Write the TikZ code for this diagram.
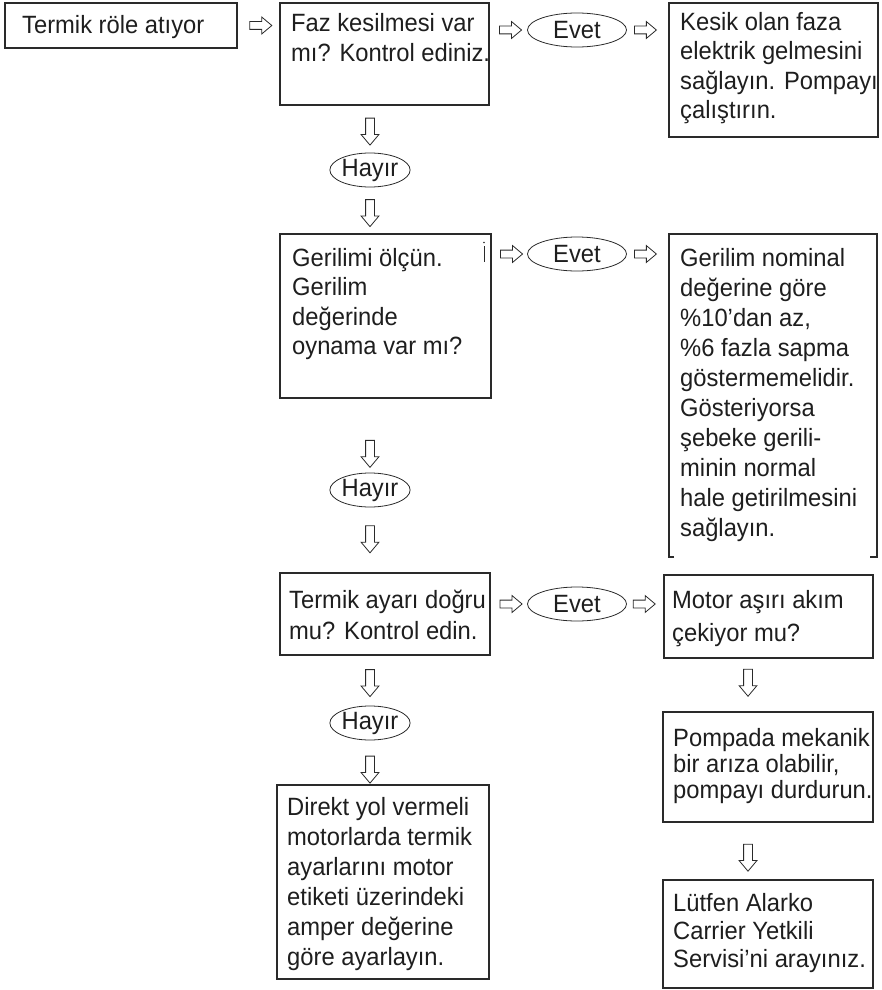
\documentclass[tikz,border=0pt]{standalone}
\usepackage{fontspec}
\setmainfont{Liberation Sans}[FakeStretch=0.95]
\usetikzlibrary{shapes.geometric,shapes.arrows,calc}
\definecolor{lc}{HTML}{2A2A2A}
\definecolor{tc}{HTML}{1E1E1E}
\tikzset{
  box/.style={draw=lc, line width=1.1pt, rectangle, inner sep=0pt, outer sep=0pt, anchor=north west},
  txt/.style={anchor=north west, inner sep=0pt, align=left, text=tc, font=\fontsize{25}{30}\selectfont},
  oval/.style={draw=lc, line width=0.8pt, ellipse, inner sep=0pt, outer sep=0pt, minimum height=34pt, text=tc, font=\fontsize{25}{28}\selectfont},
  evetoval/.style={oval, minimum width=99pt},
  hayiroval/.style={oval, minimum width=80pt},
  harr/.style={draw=lc, line width=0.8pt, single arrow, single arrow head extend=4.5pt, single arrow tip angle=80, minimum height=22pt, inner xsep=0pt, inner ysep=3.5pt, outer sep=0pt, fill=white},
  darr/.style={harr, rotate=-90, minimum height=27pt, inner ysep=4pt},
}
\begin{document}
\begin{tikzpicture}[x=1pt,y=-1pt]
\useasboundingbox (0,0) rectangle (882,990);
\coordinate (lcol) at (370,0);
\coordinate (rcol) at (748,0);
% ---- row 1
\node[box, minimum width=232pt, minimum height=45pt] (b1) at (5,3) {};
\node[txt] (t1) at ($(b1.north west)+(17,9)$) {\strut Termik röle atıyor};
\node[box, minimum width=209pt, minimum height=102pt] (b2) at (280,3) {};
\node[txt] (t2) at ($(b2.north west)+(11,7)$) {\strut Faz kesilmesi var\\mı? Kontrol ediniz.};
\node[evetoval] (e1) at (577,30) {Evet\hspace{10pt}};
\node[box, minimum width=209pt, minimum height=134pt] (b3) at (669,3) {};
\node[txt, font=\fontsize{25}{29.5}\selectfont] (t3) at ($(b3.north west)+(11,6.4)$) {\strut Kesik olan faza\\elektrik gelmesini\\sağlayın. Pompayı\\çalıştırın.};
\path (b1.east) -- (b2.west |- b1.east) node[midway, harr] (a1) {};
\path (b2.east |- e1) -- (e1.west) node[midway, harr] (a2) {};
\path (e1.east) -- (b3.west |- e1) node[pos=0.39, harr] (a3) {};
% ---- first Hayir
\node[hayiroval] (h1) at (370,170) {Hayır};
\path (b2.south -| h1) -- (h1.north) node[midway, darr] (a4) {};
% ---- row 2
\node[box, minimum width=211pt, minimum height=164pt] (b4) at (280,234) {};
\node[txt, font=\fontsize{25}{29.5}\selectfont] (t4) at ($(b4.north west)+(12,11.3)$) {\strut Gerilimi ölçün.\\Gerilim\\değerinde\\oynama var mı?};
\draw[lc, line width=0.6pt] ($(b4.north east)+(-7,12)$) -- ($(b4.north east)+(-7,28)$);
\fill[lc] ($(b4.north east)+(-7,8.5)$) circle (0.8pt);
\path (h1.south) -- (b4.north -| h1) node[midway, darr] (a5) {};
\node[evetoval] (e2) at (577,254) {Evet\hspace{10pt}};
\node[inner sep=0pt, outer sep=0pt, minimum width=208pt, minimum height=323pt, anchor=north west] (b5) at (669,234) {};
\draw[lc, line width=1.1pt] ($(b5.south west)+(5,0)$) -- (b5.south west) -- (b5.north west) -- (b5.north east) -- (b5.south east) -- ++(-7,0);
\node[txt] (t5) at ($(b5.north west)+(11,11)$) {\strut Gerilim nominal\\değerine göre\\\%10’dan az,\\\%6 fazla sapma\\göstermemelidir.\\Gösteriyorsa\\şebeke gerili-\\minin normal\\hale getirilmesini\\sağlayın.};
\path (b4.east |- e2) -- (e2.west) node[midway, harr] (a6) {};
\path (e2.east) -- (b5.west |- e2) node[pos=0.39, harr] (a7) {};
\node[hayiroval] (h2) at (370,490) {Hayır};
\path (b4.south -| h2) -- (h2.north) node[pos=0.71, darr] (a8) {};
% ---- row 3
\node[box, minimum width=210pt, minimum height=82pt] (b6) at (280,573) {};
\node[txt, font=\fontsize{25}{31}\selectfont] (t6) at ($(b6.north west)+(9,13.3)$) {\strut Termik ayarı doğru\\mu? Kontrol edin.};
\path (h2.south) -- (b6.north -| h2) node[pos=0.45, darr] (a9) {};
\node[evetoval] (e3) at (577,604) {Evet\hspace{10pt}};
\node[box, minimum width=209pt, minimum height=83pt] (b7) at (664,575) {};
\node[txt, font=\fontsize{25}{33}\selectfont] (t7) at ($(b7.north west)+(8,9.9)$) {\strut Motor aşırı akım\\çekiyor mu?};
\path (b6.east |- e3) -- (e3.west) node[midway, harr] (a10) {};
\path (e3.east) -- (b7.west |- e3) node[pos=0.41, harr] (a11) {};
\node[hayiroval] (h3) at (370,723) {Hayır};
\path (b6.south -| h3) -- (h3.north) node[midway, darr] (a12) {};
\node[box, minimum width=212pt, minimum height=194pt] (b8) at (277,785) {};
\node[txt] (t8) at ($(b8.north west)+(10,9)$) {\strut Direkt yol vermeli\\motorlarda termik\\ayarlarını motor\\etiketi üzerindeki\\amper değerine\\göre ayarlayın.};
\path (h3.south) -- (b8.north -| h3) node[pos=0.6, darr] (a13) {};
% ---- right column lower
\node[box, minimum width=210pt, minimum height=110pt] (b9) at (663,712) {};
\node[txt, font=\fontsize{25}{26}\selectfont] (t9) at ($(b9.north west)+(10,15.8)$) {\strut Pompada mekanik\\bir arıza olabilir,\\pompayı durdurun.};
\path (b7.south -| rcol) -- (b9.north -| rcol) node[pos=0.41, darr] (a14) {};
\node[box, minimum width=210pt, minimum height=108pt] (b10) at (663,880) {};
\node[txt, font=\fontsize{25}{28}\selectfont] (t10) at ($(b10.north west)+(10,11.4)$) {\strut Lütfen Alarko\\Carrier Yetkili\\Servisi’ni arayınız.};
\path (b9.south -| rcol) -- (b10.north -| rcol) node[pos=0.57, darr] (a15) {};
\end{tikzpicture}
\end{document}
